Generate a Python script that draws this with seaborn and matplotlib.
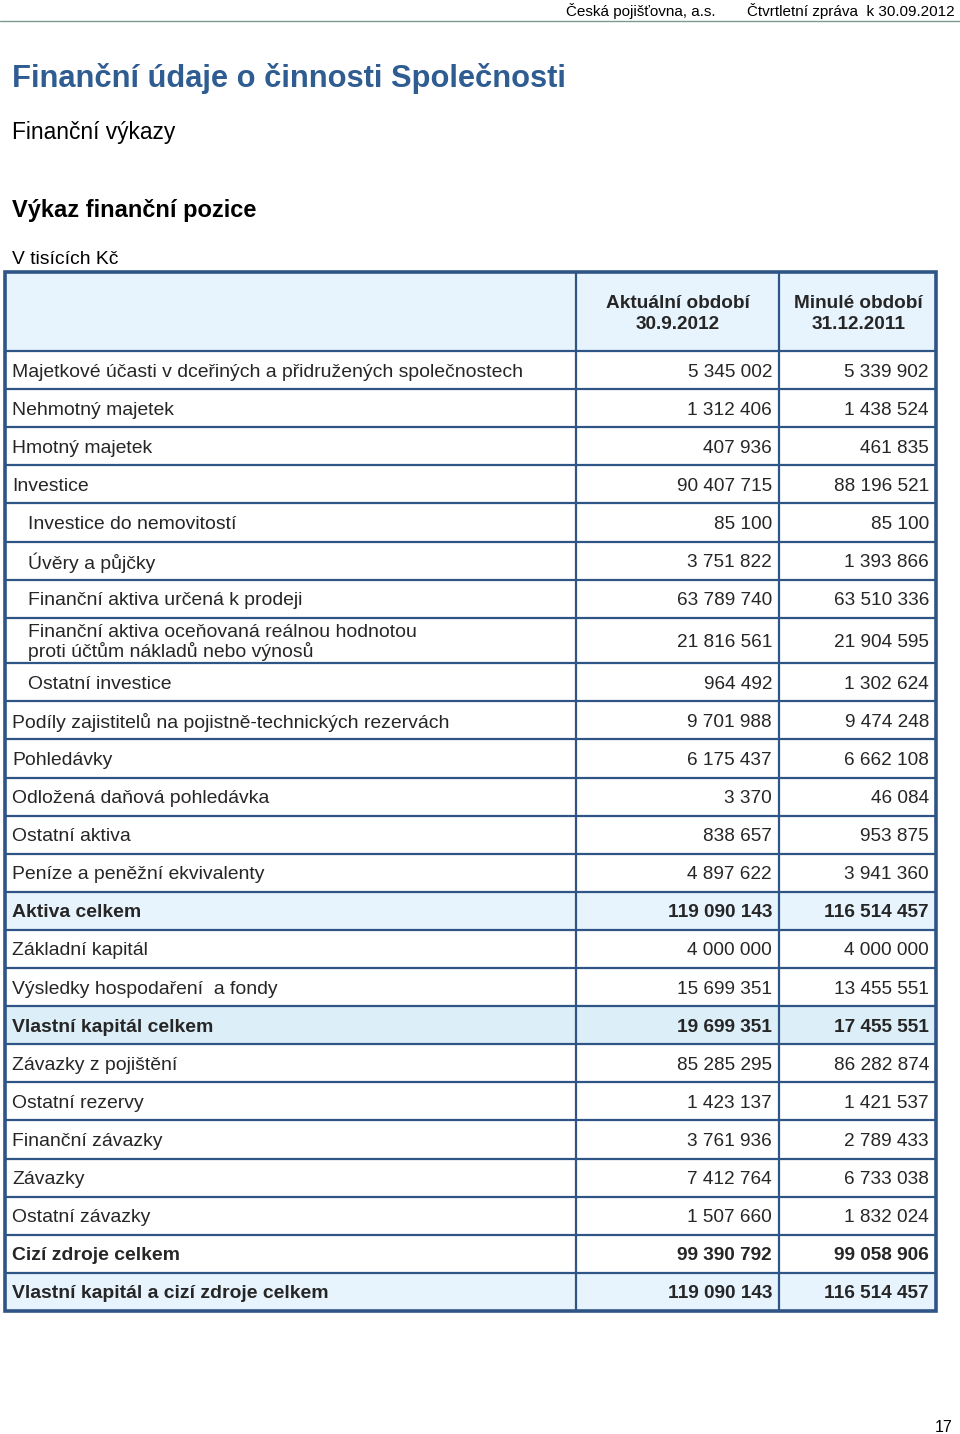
import matplotlib
matplotlib.use("Agg")
import matplotlib.pyplot as plt
from matplotlib.patches import Rectangle
import seaborn as sns

# ---------------- data ----------------
row_labels = [
    "Majetkové účasti v dceřiných a přidružených společnostech",
    "Nehmotný majetek",
    "Hmotný majetek",
    "Investice",
    "Investice do nemovitostí",
    "Úvěry a půjčky",
    "Finanční aktiva určená k prodeji",
    "Finanční aktiva oceňovaná reálnou hodnotou\nproti účtům nákladů nebo výnosů",
    "Ostatní investice",
    "Podíly zajistitelů na pojistně-technických rezervách",
    "Pohledávky",
    "Odložená daňová pohledávka",
    "Ostatní aktiva",
    "Peníze a peněžní ekvivalenty",
    "Aktiva celkem",
    "Základní kapitál",
    "Výsledky hospodaření  a fondy",
    "Vlastní kapitál celkem",
    "Závazky z pojištění",
    "Ostatní rezervy",
    "Finanční závazky",
    "Závazky",
    "Ostatní závazky",
    "Cizí zdroje celkem",
    "Vlastní kapitál a cizí zdroje celkem",
]
indent_level = [0, 0, 0, 0, 1, 1, 1, 1, 1, 0, 0, 0, 0, 0, 0, 0, 0, 0, 0, 0, 0, 0, 0, 0, 0]
bold_rows = [False]*14 + [True, False, False, True, False, False, False, False, False, True, True]
current_period = [5345002, 1312406, 407936, 90407715, 85100, 3751822, 63789740, 21816561,
                  964492, 9701988, 6175437, 3370, 838657, 4897622, 119090143, 4000000,
                  15699351, 19699351, 85285295, 1423137, 3761936, 7412764, 1507660,
                  99390792, 119090143]
prior_period = [5339902, 1438524, 461835, 88196521, 85100, 1393866, 63510336, 21904595,
                1302624, 9474248, 6662108, 46084, 953875, 3941360, 116514457, 4000000,
                13455551, 17455551, 86282874, 1421537, 2789433, 6733038, 1832024,
                99058906, 116514457]
col_headers = ["Aktuální období\n30.9.2012", "Minulé období\n31.12.2011"]
fill_kind = ["w"]*14 + ["a", "w", "w", "b", "w", "w", "w", "w", "w", "w", "a"]

title = "Finanční údaje o činnosti Společnosti"
subtitle = "Finanční výkazy"
section = "Výkaz finanční pozice"
unit = "V tisících Kč"
header_left = "Česká pojišťovna, a.s."
header_right = "Čtvrtletní zpráva  k 30.09.2012"
page_no = "17"

# ---------------- style ----------------
sns.set_theme(style="white")
plt.rcParams["font.family"] = ["Liberation Sans", "DejaVu Sans"]

W, H = 960, 1434
fig = plt.figure(figsize=(W/100, H/100), dpi=100)
ax = fig.add_axes([0, 0, 1, 1])
ax.set_xlim(0, W)
ax.set_ylim(H, 0)
ax.axis("off")

border = "#2F5586"
fills = {"w": "white", "a": "#E8F4FD", "b": "#DCEEF7"}
title_blue = "#2F5D92"

def fmt(v):
    return f"{v:,}".replace(",", " ")

# page header
ax.plot([0, 960], [21, 21], color="#7E9A8E", lw=1.0)
ax.text(566, 11, header_left, fontsize=11.0, ha="left", va="center", color="black")
ax.text(955, 11, header_right, fontsize=11.0, ha="right", va="center", color="black")

ax.text(12, 78, title, fontsize=22.2, fontweight="bold", color=title_blue, ha="left", va="center")
ax.text(12, 132, subtitle, fontsize=16.4, ha="left", va="center", color="black")
ax.text(12, 211, section, fontsize=17.0, fontweight="bold", ha="left", va="center", color="black")
ax.text(12, 260, unit, fontsize=13.9, ha="left", va="center", color="black")

# table geometry
x_left, x_c1, x_c2, x_right = 5, 576, 779, 936
top = 272
header_h = 79
normal_h = 38.1
two_h = 45.5

fs = 13.7
fs_lab = 13.95
# header row
ax.add_patch(Rectangle((x_left, top), x_right - x_left, header_h, facecolor=fills["a"], edgecolor="none", zorder=1))
ax.text((x_c1 + x_c2) / 2 + 0.5, top + 42, col_headers[0], fontsize=fs, fontweight="bold",
        ha="center", va="center", linespacing=1.3, zorder=3)
ax.text((x_c2 + x_right) / 2 + 1, top + 42, col_headers[1], fontsize=fs, fontweight="bold",
        ha="center", va="center", linespacing=1.3, zorder=3)

y = top + header_h
hlines = [y]
for i, lab in enumerate(row_labels):
    h = two_h if "\n" in lab else normal_h
    ax.add_patch(Rectangle((x_left, y), x_right - x_left, h, facecolor=fills[fill_kind[i]],
                           edgecolor="none", zorder=1))
    cy = y + h / 2 + 2
    w = "bold" if bold_rows[i] else "normal"
    ax.text(12 + 16 * indent_level[i], cy, lab, fontsize=fs_lab, fontweight=w, ha="left",
            va="center", linespacing=1.1, zorder=3)
    ax.text(772, cy, fmt(current_period[i]), fontsize=fs, fontweight=w, ha="right", va="center", zorder=3)
    ax.text(929, cy, fmt(prior_period[i]), fontsize=fs, fontweight=w, ha="right", va="center", zorder=3)
    y += h
    hlines.append(y)
bottom = y

for hy in hlines[:-1]:
    ax.plot([x_left, x_right], [hy, hy], color=border, lw=1.6, zorder=2, solid_capstyle="butt")
for vx in (x_c1, x_c2):
    ax.plot([vx, vx], [top, bottom], color=border, lw=1.6, zorder=2, solid_capstyle="butt")
ax.add_patch(Rectangle((x_left, top), x_right - x_left, bottom - top, facecolor="none",
                       edgecolor=border, lw=2.6, zorder=4))

ax.text(953, 1428, page_no, fontsize=11.5, ha="right", va="center", color="black")

fig.savefig("out.png", dpi=100)
